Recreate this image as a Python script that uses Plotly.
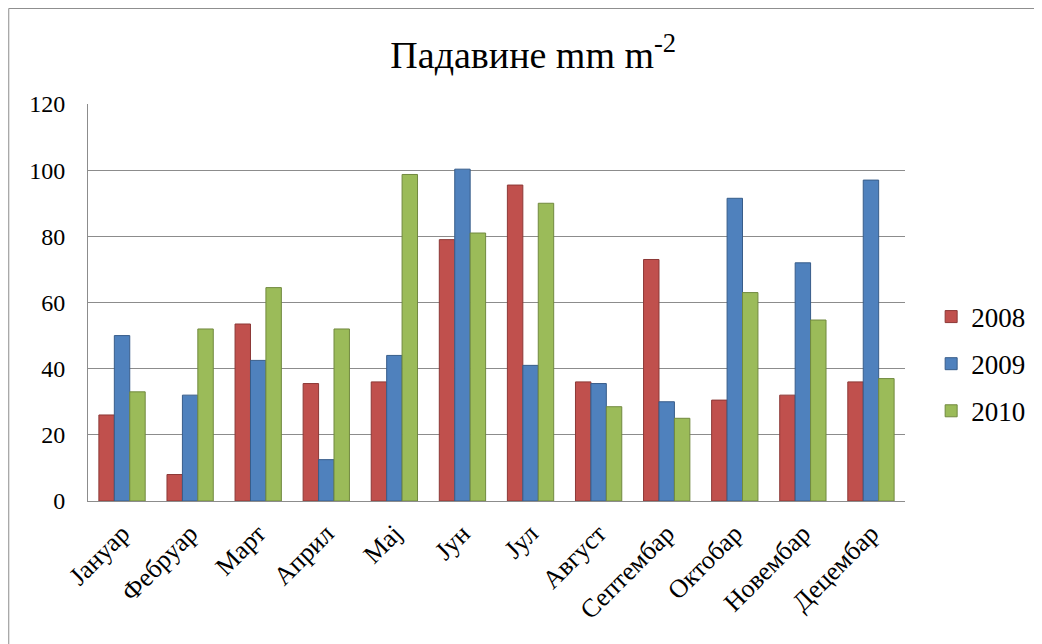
import plotly.graph_objects as go

months = ["Јануар", "Фебруар", "Март", "Април", "Мај", "Јун",
          "Јул", "Август", "Септембар", "Октобар", "Новембар", "Децембар"]

rain_2008 = [26, 8, 53.5, 35.5, 36, 79, 95.5, 36, 73, 30.5, 32, 36]
rain_2009 = [50, 32, 42.5, 12.5, 44, 100.3, 41, 35.5, 30, 91.5, 72, 97]
rain_2010 = [33, 52, 64.5, 52, 98.7, 81, 90, 28.5, 25, 63, 54.7, 37]

series = [
    ("2008", rain_2008, "#C0504D", "#8C3836"),
    ("2009", rain_2009, "#4F81BD", "#385D8A"),
    ("2010", rain_2010, "#9BBB59", "#71893F"),
]

FONT = "Liberation Serif"

fig = go.Figure()
for name, vals, fill, edge in series:
    fig.add_trace(go.Bar(
        x=months, y=vals, name=name, legendgroup=name,
        marker=dict(color=fill, line=dict(color=edge, width=1)),
    ))

# page body has an 8px margin, so the figure is sized/offset for that
fig.update_layout(
    width=1034, height=636,
    margin=dict(l=80, r=134, t=96, b=143),
    paper_bgcolor="white", plot_bgcolor="white",
    barmode="group", bargap=0.32, bargroupgap=0,
    font=dict(family=FONT, size=24, color="black"),
    title=dict(text="Падавине mm m<sup>-2</sup>", x=0.508, xanchor="center",
               y=0.926, yanchor="middle", font=dict(size=38, family=FONT)),
    legend=dict(x=1.032, xanchor="left", y=0.345, yanchor="middle",
                font=dict(size=27, family=FONT), tracegroupgap=9,
                itemwidth=30, bgcolor="rgba(0,0,0,0)"),
    showlegend=True,
)

fig.update_yaxes(range=[0, 120], dtick=20, showgrid=True, gridcolor="#8C8C8C",
                 gridwidth=1, showline=True, linecolor="#8C8C8C", linewidth=1,
                 ticks="", ticklabelstandoff=17,
                 tickfont=dict(size=24), zeroline=False)
fig.update_xaxes(showline=True, linecolor="#8C8C8C", linewidth=1,
                 tickangle=-45, tickfont=dict(size=26), ticks="",
                 ticklabelstandoff=6)

# chart frame (left and top edges visible)
fig.add_shape(type="rect", xref="paper", yref="paper",
              x0=-0.097, x1=1.3, y0=-0.5, y1=1.2406,
              line=dict(color="#8C8C8C", width=1))

fig.write_html("out.html")
